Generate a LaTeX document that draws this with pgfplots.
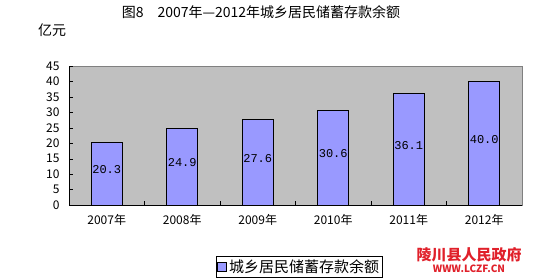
\documentclass[border=0pt]{standalone}
\usepackage{pgfplots}
\pgfplotsset{compat=1.18}
\usepackage{fontspec}
\setmainfont{Noto Sans CJK SC}
\newfontfamily\monofont{Liberation Mono}
\definecolor{bgray}{HTML}{C0C0C0}
\definecolor{barblue}{HTML}{9999FF}
\definecolor{framegray}{HTML}{808080}
\definecolor{wmred}{HTML}{E0202A}
\begin{document}
\begin{tikzpicture}[x=1pt,y=1pt]
\useasboundingbox (0,0) rectangle (550,279);
\node[font=\fontsize{14}{16}\selectfont] at (261,267) {图8\quad 2007年—2012年城乡居民储蓄存款余额};
\node[font=\fontsize{14}{16}\selectfont] at (52,249) {亿元};
\node[font=\fontsize{15}{16}\selectfont\bfseries, text=wmred] at (469,24) {陵川县人民政府};
\node[font=\fontsize{10}{11}\selectfont\bfseries, text=wmred] at (469,10) {WWW.LCZF.CN};
\begin{axis}[
  at={(69pt,74pt)}, anchor=south west,
  scale only axis, width=453pt, height=139pt,
  xmin=-0.5, xmax=5.5, ymin=0, ymax=45,
  ytick={0,5,...,45},
  xtick={0,...,5},
  xticklabels={2007年,2008年,2009年,2010年,2011年,2012年},
  minor xtick={0.5,1.5,2.5,3.5,4.5},
  major x tick style={draw=none},
  minor x tick style={black},
  major tick length=4pt, minor tick length=4pt,
  tick align=inside,
  axis x line*=bottom, axis y line*=left,
  axis line style={black,-},
  axis background/.style={fill=bgray, draw=framegray},
  ytick style={black},
  /pgf/number format/assume math mode=true,
  yticklabel style={font=\fontsize{12}{14}\selectfont, xshift=-6pt},
  xticklabel style={font=\fontsize{12}{14}\selectfont, yshift=-6pt},
  legend style={at={(0.508,-0.445)}, anchor=center, draw=black, fill=white,
    font=\fontsize{15}{16}\selectfont, inner sep=1.5pt},
  legend image code/.code={\draw[#1, draw=black] (0pt,-4.5pt) rectangle (9pt,4.5pt);},
]
\addplot[ybar, bar width=31pt, fill=barblue, draw=black, line width=0.8pt,
  nodes near coords={\pgfmathprintnumber[fixed, fixed zerofill, precision=1]{\pgfplotspointmeta}},
  visualization depends on={y \as \rawy},
  every node near coord/.append style={anchor=center, font=\monofont\fontsize{12}{14}\selectfont,
     shift={(axis direction cs:0,-\rawy/2)}, yshift=4pt}]
  coordinates {(0,20.3) (1,24.9) (2,27.6) (3,30.6) (4,36.1) (5,40.0)};
\addlegendentry{城乡居民储蓄存款余额}
\end{axis}
\end{tikzpicture}
\end{document}
